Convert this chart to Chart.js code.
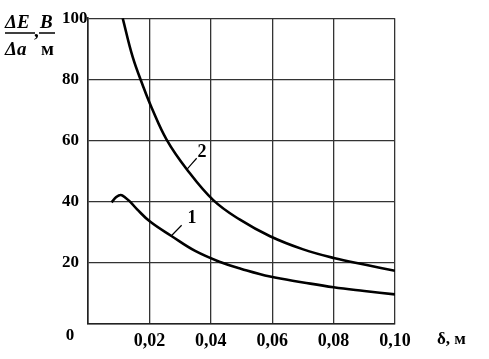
<!DOCTYPE html>
<html>
<head>
<meta charset="utf-8">
<script src="https://cdn.jsdelivr.net/npm/chart.js@4"></script>
<style>
html,body{margin:0;padding:0;background:#fff;}
#wrap{width:489px;height:359px;position:relative;}
</style>
</head>
<body>
<div id="wrap"><canvas id="c" width="489" height="359"></canvas></div>
<script>
// Curve 1
const curve1X = [0.0077, 0.0092, 0.0107, 0.0122, 0.0137, 0.016, 0.0202, 0.0273, 0.0349, 0.0435, 0.05, 0.0593, 0.0701, 0.08, 0.09, 0.10];
const curve1Y = [39.8, 41.5, 42.2, 41.3, 40.0, 37.5, 33.5, 28.7, 23.9, 20.1, 18.0, 15.5, 13.6, 12.0, 10.8, 9.7];
// Curve 2
const curve2X = [0.0113, 0.0145, 0.018, 0.0207, 0.0256, 0.0321, 0.0408, 0.0495, 0.0593, 0.0701, 0.08, 0.0908, 0.10];
const curve2Y = [100, 87.5, 77.6, 70.8, 60.3, 50.7, 40.5, 34.1, 28.7, 24.4, 21.6, 19.3, 17.4];
// Curve labels: leader line [from curve, to label] and text position
const curveNames = ['1', '2'];
const leader1X = [0.0270, 0.0305], leader1Y = [28.7, 32.3];
const leader2X = [0.03215, 0.0354], leader2Y = [50.5, 54.2];
const labelPosX = [0.0339, 0.0371], labelPosY = [34.5, 56.1];
// Axes
const xTicks = [0.02, 0.04, 0.06, 0.08, 0.10];
const yTicks = [20, 40, 60, 80, 100];

const pts = (xs, ys) => xs.map((x, i) => ({x: x, y: ys[i]}));

const textPlugin = {
  id: 'texts',
  afterDraw(chart) {
    const ctx = chart.ctx;
    const xs = chart.scales.x, ys = chart.scales.y;
    ctx.save();
    ctx.fillStyle = '#000';
    ctx.strokeStyle = '#000';
    // curve numbers
    ctx.font = 'bold 18px "Liberation Serif"';
    ctx.textAlign = 'center';
    ctx.textBaseline = 'middle';
    curveNames.forEach((n, i) => {
      ctx.fillText(n, xs.getPixelForValue(labelPosX[i]), ys.getPixelForValue(labelPosY[i]));
    });
    // corner zero
    ctx.font = 'bold 17px "Liberation Serif"';
    ctx.fillText('0', 70, 336);
    // x axis title
    ctx.textAlign = 'left';
    ctx.fillText('δ, м', 437, 340);
    // y axis title as fractions
    ctx.textBaseline = 'alphabetic';
    ctx.font = 'italic bold 19px "Liberation Serif"';
    ctx.fillText('ΔE', 5, 28);
    ctx.fillText('Δa', 5, 55);
    ctx.fillText('B', 40, 28);
    ctx.font = 'bold 19px "Liberation Serif"';
    ctx.fillText(',', 34, 37);
    ctx.fillText('м', 41, 55);
    ctx.lineWidth = 1.6;
    ctx.beginPath();
    ctx.moveTo(5, 33); ctx.lineTo(35, 33);
    ctx.moveTo(39, 33); ctx.lineTo(55, 33);
    ctx.stroke();
    ctx.restore();
  }
};

const lineDs = (data, w) => ({
  data: data, showLine: true, borderColor: '#000', borderWidth: w,
  pointRadius: 0, fill: false, tension: 0.4
});

new Chart(document.getElementById('c'), {
  type: 'scatter',
  data: {
    datasets: [
      lineDs(pts(curve1X, curve1Y), 2.6),
      lineDs(pts(curve2X, curve2Y), 2.6),
      lineDs(pts(leader1X, leader1Y), 1.2),
      lineDs(pts(leader2X, leader2Y), 1.2)
    ]
  },
  options: {
    responsive: false,
    animation: false,
    events: [],
    layout: {padding: {left: 62, right: 94, top: 13, bottom: 0}},
    plugins: {legend: {display: false}, tooltip: {enabled: false}},
    scales: {
      x: {
        type: 'linear', min: 0, max: 0.1,
        afterBuildTicks: (s) => { s.ticks = [0].concat(xTicks).map(v => ({value: v})); },
        afterFit: (s) => { s.height = 35; },
        grid: {color: '#333', lineWidth: 1.3, drawTicks: false},
        border: {color: '#222', width: 1.6},
        ticks: {
          autoSkip: false, maxRotation: 0, padding: 7, color: '#000',
          font: {family: '"Liberation Serif"', size: 18, weight: 'bold'},
          callback: (v) => v === 0 ? '' : v.toFixed(2).replace('.', ',')
        }
      },
      y: {
        type: 'linear', min: 0, max: 100,
        afterBuildTicks: (s) => { s.ticks = [0].concat(yTicks).map(v => ({value: v})); },
        afterFit: (s) => { s.width = 26; },
        grid: {color: '#333', lineWidth: 1.3, drawTicks: false},
        border: {color: '#222', width: 1.6},
        ticks: {
          crossAlign: 'far', padding: 8, color: '#000',
          font: {family: '"Liberation Serif"', size: 17, weight: 'bold'},
          callback: (v) => v === 0 ? '' : String(v)
        }
      }
    }
  },
  plugins: [textPlugin]
});
</script>
</body>
</html>
